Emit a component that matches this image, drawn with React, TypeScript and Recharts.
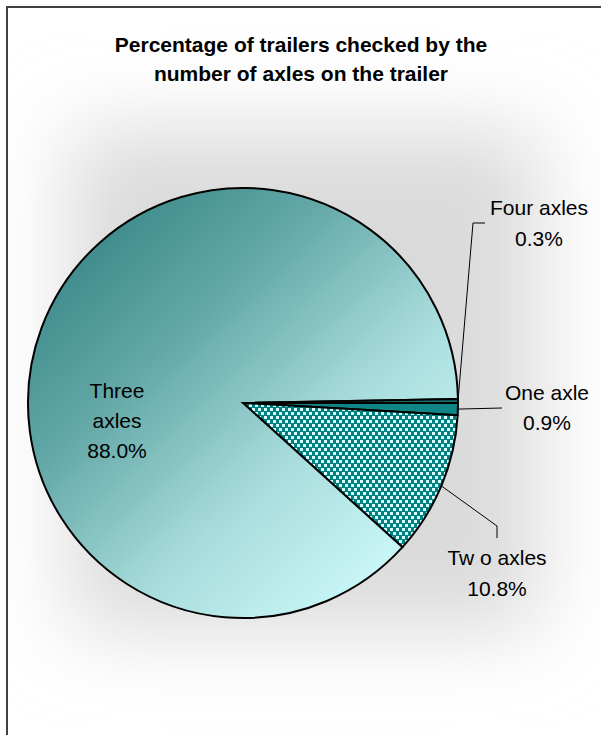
import React from 'react';
import { PieChart, Pie, Cell } from 'recharts';

const categories = ['One axle', 'Two axles', 'Three axles', 'Four axles'];
const labelLines = [['One axle'], ['Tw o axles'], ['Three', 'axles'], ['Four axles']];
const percentages = [0.9, 10.8, 88.0, 0.3];
const titleLines = ['Percentage of trailers checked by the', 'number of axles on the trailer'];

const data = categories.map((c, i) => ({ name: c, value: percentages[i] }));

const fills = ['#0f8585', 'url(#dotPattern)', 'url(#pieGrad)', '#1a6e6e'];

const FONT = '"Liberation Sans", Arial, sans-serif';
const RAD = Math.PI / 180;

// label layout (offsets from pie centre), not data
const layout: Record<number, { tx: number; ty: number; lh: number; leader?: number[][] }> = {
  0: { tx: 304, ty: -11, lh: 30, leader: [[259, 5]] },
  1: { tx: 254, ty: 154, lh: 31, leader: [[254, 123], [254, 135]] },
  2: { tx: -126, ty: -13, lh: 30 },
  3: { tx: 296, ty: -196, lh: 31, leader: [[230, -180], [242, -180]] },
};

const renderLabel = (props: any) => {
  const { cx, cy, midAngle, outerRadius, index, value } = props;
  const L = layout[index];
  const ex = cx + outerRadius * Math.cos(-midAngle * RAD);
  const ey = cy + outerRadius * Math.sin(-midAngle * RAD);
  const lines = [...labelLines[index], `${Number(value).toFixed(1)}%`];
  let path = '';
  if (L.leader) {
    path = `M${ex},${ey}` + L.leader.map((p) => ` L${cx + p[0]},${cy + p[1]}`).join('');
  }
  return (
    <g key={`lab-${index}`}>
      {path && <path d={path} stroke="#000" strokeWidth={1} fill="none" />}
      {lines.map((t, k) => (
        <text
          key={k}
          x={cx + L.tx}
          y={cy + L.ty + k * L.lh}
          textAnchor="middle"
          dominantBaseline="central"
          fontFamily={FONT}
          fontSize={21}
          fill="#000"
        >
          {t}
        </text>
      ))}
    </g>
  );
};

export default function App() {
  return (
    <div style={{ position: 'absolute', left: 0, top: 0, width: 601, height: 735 }}>
      <svg width={601} height={735} style={{ position: 'absolute', left: 0, top: 0 }}>
        <defs>
          <filter id="bgBlur" x="-50%" y="-50%" width="200%" height="200%">
            <feGaussianBlur stdDeviation="42" />
          </filter>
          <linearGradient id="pieGrad" gradientUnits="userSpaceOnUse" x1={40} y1={200} x2={420} y2={600}>
            <stop offset="0" stopColor="#2c7d7d" />
            <stop offset="0.35" stopColor="#64a8a8" />
            <stop offset="0.65" stopColor="#a8dcdc" />
            <stop offset="1" stopColor="#d4ffff" />
          </linearGradient>
          <pattern id="dotPattern" width="6" height="8" patternUnits="userSpaceOnUse">
            <rect width="6" height="8" fill="#008080" />
            <rect x="0" y="0" width="3" height="3" fill="#d8ffff" />
            <rect x="3" y="4" width="3" height="3" fill="#d8ffff" />
          </pattern>
        </defs>
        <rect x={0} y={0} width={601} height={735} fill="#ffffff" />
        <rect x={70} y={130} width={470} height={500} fill="#dadada" filter="url(#bgBlur)" />
        <path d="M7,740 L7,7 L610,7" stroke="#404040" strokeWidth={2} fill="none" />
        {titleLines.map((t, i) => (
          <text
            key={i}
            x={301}
            y={44 + i * 29}
            textAnchor="middle"
            dominantBaseline="central"
            fontFamily={FONT}
            fontWeight="bold"
            fontSize={21}
            fill="#000"
          >
            {t}
          </text>
        ))}
      </svg>
      <div style={{ position: 'absolute', left: 0, top: 0 }}>
        <PieChart width={601} height={735} margin={{ top: 0, right: 0, bottom: 0, left: 0 }}>
          <Pie
            data={data}
            dataKey="value"
            nameKey="name"
            cx={243}
            cy={403}
            outerRadius={215}
            startAngle={0}
            endAngle={-360}
            isAnimationActive={false}
            label={renderLabel}
            labelLine={false}
            stroke="#000"
            strokeWidth={2}
          >
            {data.map((d, i) => (
              <Cell key={d.name} fill={fills[i]} stroke="#000" strokeWidth={2} />
            ))}
          </Pie>
        </PieChart>
      </div>
    </div>
  );
}
